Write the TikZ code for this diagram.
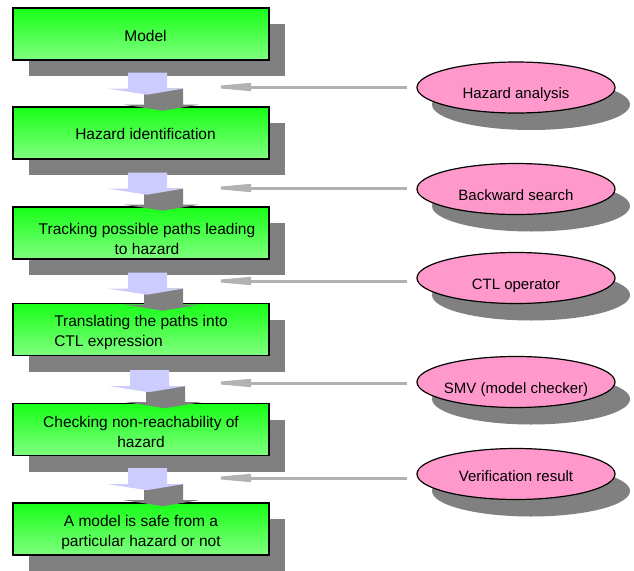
\documentclass[tikz,border=0pt]{standalone}
\usepackage{fontspec}
\setmainfont{Liberation Sans}
\usepackage{xcolor}
\usepackage{tikz}
\usetikzlibrary{arrows.meta, positioning, calc, shapes, shadows}

\definecolor{stepgreen}{RGB}{24,255,24}
\definecolor{steplight}{RGB}{128,255,128}
\definecolor{toolpink}{RGB}{255,153,204}
\definecolor{flowblue}{RGB}{204,204,255}
\definecolor{shadowgray}{RGB}{128,128,128}
\definecolor{feedgray}{RGB}{178,178,178}

\begin{document}
\begin{tikzpicture}[
    x=1pt, y=-1pt,
    font=\fontsize{15}{19}\selectfont,
    stepbox/.style={draw=black, line width=1.4pt, rectangle, top color=stepgreen, bottom color=steplight, minimum width=256pt, minimum height=52pt, inner sep=2pt, align=center, text depth=0pt, font=\fontsize{15.5}{19.5}\selectfont, drop shadow={shadow xshift=16pt, shadow yshift=-16pt, fill=shadowgray, opacity=1}},
    tool/.style={draw=black, line width=1.2pt, ellipse, fill=toolpink, minimum width=198pt, minimum height=51pt, inner ysep=0pt, inner xsep=-8pt, text height=22pt, text depth=0pt, drop shadow={shadow xshift=15pt, shadow yshift=-17pt, fill=shadowgray, opacity=1}},
    flow/.style={fill=flowblue, drop shadow={shadow xshift=16pt, shadow yshift=-16pt, fill=shadowgray, opacity=1}},
    feed/.style={-{Triangle[length=50pt, width=7.5pt]}, draw=feedgray, line width=3pt, shorten <=9pt}
]
    \useasboundingbox (0,0) rectangle (634,570);

    % --- Steps ---
    \node[stepbox, text height=14pt] (Model) at (141,34) {\hspace*{9pt}Model};
    \node[stepbox, text height=12pt] (HazardId) at (141,133) {\hspace*{9pt}Hazard identification};
    \node[stepbox, text height=42.5pt] (Tracking) at (141,233) {\hspace*{12pt}Tracking possible paths leading\\\hspace*{12pt}to hazard};
    \node[stepbox, align=left, text height=33pt] (Translating) at (141,329.5) {Translating the paths into\\CTL expression};
    \node[stepbox, text height=35pt] (Checking) at (141,429.5) {Checking non-reachability of\\hazard};
    \node[stepbox, text height=34pt] (Safe) at (141,529) {A model is safe from a\\particular hazard or not};

    % --- Block arrows between steps ---
    \path[flow] ($(Model.south)+(-13,12)$) -- ++(39,0) -- ++(0,16) -- ++(16,0) -- ++(-36,6) -- ++(-39,-6) -- ++(20,0) -- cycle;
    \path[flow] ($(HazardId.south)+(-13,13)$) -- ++(39,0) -- ++(0,16) -- ++(16,0) -- ++(-36,6) -- ++(-39,-6) -- ++(20,0) -- cycle;
    \path[flow] ($(Tracking.south)+(-13,13)$) -- ++(39,0) -- ++(0,16) -- ++(16,0) -- ++(-36,6) -- ++(-39,-6) -- ++(20,0) -- cycle;
    \path[flow] ($(Translating.south)+(-11,14)$) -- ++(39,0) -- ++(0,16) -- ++(16,0) -- ++(-36,6) -- ++(-39,-6) -- ++(20,0) -- cycle;
    \path[flow] ($(Checking.south)+(-13,12)$) -- ++(39,0) -- ++(0,16) -- ++(16,0) -- ++(-36,6) -- ++(-39,-6) -- ++(20,0) -- cycle;

    % --- Inputs ---
    \node[tool] (Analysis) at (516,87.5) {Hazard analysis};
    \node[tool] (Backward) at (516,189) {Backward search};
    \node[tool] (CTLop) at (516,278) {CTL operator};
    \node[tool] (SMV) at (516,382) {SMV (model checker)};
    \node[tool, text height=15pt] (Verify) at (516,474) {Verification result};

    \coordinate (tipA) at (201,87);
    \coordinate (tipB) at (201,188);
    \coordinate (tipC) at (201,281);
    \coordinate (tipD) at (201,383);
    \coordinate (tipE) at (201,478);

    \draw[feed] (Analysis.west |- tipA) -- (tipA);
    \draw[feed] (Backward.west |- tipB) -- (tipB);
    \draw[feed] (CTLop.west |- tipC) -- (tipC);
    \draw[feed] (SMV.west |- tipD) -- (tipD);
    \draw[feed] (Verify.west |- tipE) -- (tipE);

\end{tikzpicture}
\end{document}
